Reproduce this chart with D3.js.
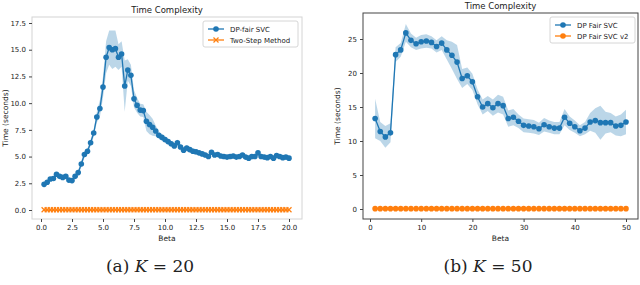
<!DOCTYPE html>
<html>
<head>
<meta charset="utf-8">
<script src="https://cdn.jsdelivr.net/npm/d3@7"></script>
<style>
  body { margin: 0; background: #fff; }
  text { font-family: "DejaVu Sans", sans-serif; fill: #222; }
  .cap { font-family: "DejaVu Serif", "Liberation Serif", serif; }
</style>
</head>
<body>
<svg id="chart" width="640" height="285"></svg>
<script>
// (a) K = 20
var betaA = d3.range(1, 81).map(function (i) { return i * 0.25; });
var fairA = [2.4, 2.6, 2.9, 2.95, 3.35, 3.15, 3.05, 3.15, 2.8, 2.75,
    3.15, 3.5, 4.3, 5.2, 5.5, 6.3, 7.2, 8.7, 9.5, 11.5,
    14.3, 15.2, 15.0, 15.1, 14.3, 14.6, 11.6, 13.1, 12.6, 10.4,
    9.8, 9.35, 9.3, 8.3, 8.0, 7.75, 7.4, 7.0, 6.8, 6.6,
    6.4, 6.2, 6.0, 6.3, 5.9, 5.6, 5.8, 5.65, 5.5, 5.45,
    5.35, 5.25, 5.15, 5.0, 5.4, 5.15, 5.2, 5.05, 5.0, 4.95,
    5.0, 5.05, 4.95, 5.0, 5.15, 4.95, 4.85, 5.0, 5.0, 5.35,
    5.0, 4.95, 4.9, 5.0, 4.85, 5.1, 5.0, 4.9, 4.95, 4.85];
var fairAStd = [0.15, 0.15, 0.15, 0.15, 0.15, 0.15, 0.15, 0.15, 0.15, 0.15,
    0.2, 0.25, 0.3, 0.3, 0.3, 0.3, 0.35, 0.5, 0.8, 1.0,
    1.5, 1.6, 1.8, 1.7, 1.2, 1.2, 2.4, 1.0, 1.0, 0.8,
    0.7, 0.6, 0.6, 0.9, 0.9, 0.8, 0.5, 0.35, 0.3, 0.3,
    0.25, 0.25, 0.25, 0.3, 0.25, 0.25, 0.25, 0.25, 0.25, 0.25,
    0.2, 0.2, 0.2, 0.2, 0.25, 0.2, 0.2, 0.2, 0.2, 0.2,
    0.2, 0.2, 0.2, 0.2, 0.2, 0.2, 0.2, 0.2, 0.2, 0.25,
    0.2, 0.2, 0.2, 0.2, 0.2, 0.2, 0.2, 0.2, 0.2, 0.2];
var twoStepA = betaA.map(function () { return 0.02; });
var yTicksA = [0, 2.5, 5, 7.5, 10, 12.5, 15, 17.5];
var xTicksA = [0, 2.5, 5, 7.5, 10, 12.5, 15, 17.5, 20];

// (b) K = 50
var betaB = d3.range(1, 51);
var fairB = [13.3, 11.4, 10.6, 11.2, 22.7, 23.4, 25.9, 24.8, 24.3, 24.6,
    24.7, 24.5, 23.9, 24.4, 23.4, 22.6, 21.6, 19.2, 19.6, 18.7,
    16.5, 15.0, 15.5, 14.9, 15.5, 15.2, 13.3, 13.5, 12.9, 12.3,
    12.2, 12.1, 11.8, 12.4, 12.1, 11.9, 11.9, 13.5, 12.6, 12.1,
    11.5, 11.9, 12.8, 13.0, 12.7, 12.7, 12.7, 12.2, 12.3, 12.8];
var fairBStd = [2.9, 1.4, 1.6, 1.4, 1.1, 1.0, 1.3, 1.0, 0.9, 1.0,
    1.0, 0.9, 0.9, 1.0, 1.4, 2.0, 2.5, 1.4, 1.2, 1.2,
    1.1, 1.1, 1.1, 1.2, 1.3, 1.3, 1.2, 1.2, 1.0, 1.0,
    1.0, 1.0, 0.9, 1.0, 0.9, 0.9, 0.9, 1.2, 1.0, 0.9,
    0.8, 0.9, 1.3, 1.8, 2.5, 1.6, 1.4, 1.4, 1.6, 1.8];
var fairV2B = betaB.map(function () { return 0.05; });
var yTicksB = [0, 5, 10, 15, 20, 25];
var xTicksB = [0, 10, 20, 30, 40, 50];

var blue = "#1f77b4", orange = "#ff7f0e";
var svg = d3.select("#chart");

function drawPanel(opt) {
    var g = svg.append("g");
    var x = d3.scaleLinear().domain(opt.xDomain).range([opt.left, opt.right]);
    var y = d3.scaleLinear().domain(opt.yDomain).range([opt.bottom, opt.top]);

    // band
    var area = d3.area()
        .x(function (d, i) { return x(opt.beta[i]); })
        .y0(function (d, i) { return y(d - opt.std[i]); })
        .y1(function (d, i) { return y(d + opt.std[i]); });
    g.append("path").datum(opt.mean).attr("d", area)
        .attr("fill", blue).attr("fill-opacity", 0.3);

    var line = d3.line()
        .x(function (d, i) { return x(opt.beta[i]); })
        .y(function (d) { return y(d); });
    g.append("path").datum(opt.mean).attr("d", line)
        .attr("fill", "none").attr("stroke", blue).attr("stroke-width", 1.3);
    g.selectAll(".dot").data(opt.mean).enter().append("circle")
        .attr("cx", function (d, i) { return x(opt.beta[i]); })
        .attr("cy", function (d) { return y(d); })
        .attr("r", 2.8).attr("fill", blue);

    // second series at ~0
    g.append("path").datum(opt.second).attr("d", line)
        .attr("fill", "none").attr("stroke", orange).attr("stroke-width", 1.3);
    if (opt.cross) {
        g.selectAll(".cross").data(opt.second).enter().append("path")
            .attr("transform", function (d, i) { return "translate(" + x(opt.beta[i]) + "," + y(d) + ")"; })
            .attr("d", "M-2.5,-2.5L2.5,2.5M-2.5,2.5L2.5,-2.5")
            .attr("stroke", orange).attr("stroke-width", 1.2);
    } else {
        g.selectAll(".odot").data(opt.second).enter().append("circle")
            .attr("cx", function (d, i) { return x(opt.beta[i]); })
            .attr("cy", function (d) { return y(d); })
            .attr("r", 2.8).attr("fill", orange);
    }

    // frame
    g.append("rect").attr("x", opt.left0).attr("y", opt.top0)
        .attr("width", opt.right0 - opt.left0).attr("height", opt.bottom0 - opt.top0)
        .attr("fill", "none").attr("stroke", opt.frame).attr("stroke-width", 1);

    // axes
    var xAxis = d3.axisBottom(x).tickValues(opt.xTicks).tickFormat(opt.xFmt).tickSize(3).tickPadding(3);
    var gx = g.append("g").attr("transform", "translate(0," + opt.bottom0 + ")").call(xAxis);
    gx.select(".domain").remove();
    gx.selectAll("text").style("font-size", "7px").attr("fill", "#222");
    gx.selectAll("line").attr("stroke", "#444");

    var yAxis = d3.axisLeft(y).tickValues(opt.yTicks).tickFormat(opt.yFmt).tickSize(3).tickPadding(3);
    var gy = g.append("g").attr("transform", "translate(" + opt.left0 + ",0)").call(yAxis);
    gy.select(".domain").remove();
    gy.selectAll("text").style("font-size", "7px").attr("fill", "#222");
    gy.selectAll("line").attr("stroke", "#444");

    var cx = (opt.left0 + opt.right0) / 2;
    g.append("text").attr("x", cx).attr("y", opt.top0 - 4).attr("text-anchor", "middle")
        .style("font-size", "8.5px").text("Time Complexity");
    g.append("text").attr("x", cx).attr("y", opt.bottom0 + 22).attr("text-anchor", "middle")
        .style("font-size", "7.5px").text("Beta");
    g.append("text").attr("transform", "translate(" + opt.ylabX + "," + ((opt.top0 + opt.bottom0) / 2) + ") rotate(-90)")
        .attr("text-anchor", "middle").style("font-size", "7.5px").text("Time (seconds)");

    // legend
    var lg = g.append("g").attr("transform", "translate(" + opt.legX + "," + opt.legY + ")");
    lg.append("rect").attr("width", opt.legW).attr("height", 26).attr("rx", 2)
        .attr("fill", "#fff").attr("stroke", "#ccc").attr("stroke-width", 0.8);
    opt.names.forEach(function (name, i) {
        var yy = 8 + i * 11;
        var c = i === 0 ? blue : orange;
        lg.append("line").attr("x1", 5).attr("x2", 21).attr("y1", yy).attr("y2", yy)
            .attr("stroke", c).attr("stroke-width", 1.3);
        if (i === 1 && opt.cross) {
            lg.append("path").attr("transform", "translate(13," + yy + ")")
                .attr("d", "M-2.5,-2.5L2.5,2.5M-2.5,2.5L2.5,-2.5")
                .attr("stroke", c).attr("stroke-width", 1.2);
        } else {
            lg.append("circle").attr("cx", 13).attr("cy", yy).attr("r", 2.8).attr("fill", c);
        }
        lg.append("text").attr("x", 27).attr("y", yy + 2.5).style("font-size", "7px").text(name);
    });
}

drawPanel({
    beta: betaA, mean: fairA, std: fairAStd, second: twoStepA, cross: true,
    xDomain: [0, 20], yDomain: [0, 17.5],
    left: 41, right: 289, top: 23, bottom: 210,
    left0: 32, right0: 302, top0: 17, bottom0: 219,
    frame: "#d4d4d4",
    xTicks: xTicksA, yTicks: yTicksA, xFmt: d3.format(".1f"), yFmt: d3.format(".1f"),
    ylabX: 8, legX: 203, legY: 21, legW: 95,
    names: ["DP-fair SVC", "Two-Step Method"]
});

drawPanel({
    beta: betaB, mean: fairB, std: fairBStd, second: fairV2B, cross: false,
    xDomain: [0, 50], yDomain: [0, 25],
    left: 370, right: 626, top: 39, bottom: 209,
    left0: 363, right0: 638, top0: 13, bottom0: 219,
    frame: "#444",
    xTicks: xTicksB, yTicks: yTicksB, xFmt: d3.format("d"), yFmt: d3.format("d"),
    ylabX: 340, legX: 550, legY: 17, legW: 85,
    names: ["DP Fair SVC", "DP Fair SVC v2"]
});

// captions
svg.append("text").attr("class", "cap").attr("x", 150).attr("y", 272).attr("text-anchor", "middle")
    .style("font-size", "17px")
    .html('(a) <tspan font-style="italic">K</tspan> = 20');
svg.append("text").attr("class", "cap").attr("x", 488).attr("y", 272).attr("text-anchor", "middle")
    .style("font-size", "17px")
    .html('(b) <tspan font-style="italic">K</tspan> = 50');
</script>
</body>
</html>
